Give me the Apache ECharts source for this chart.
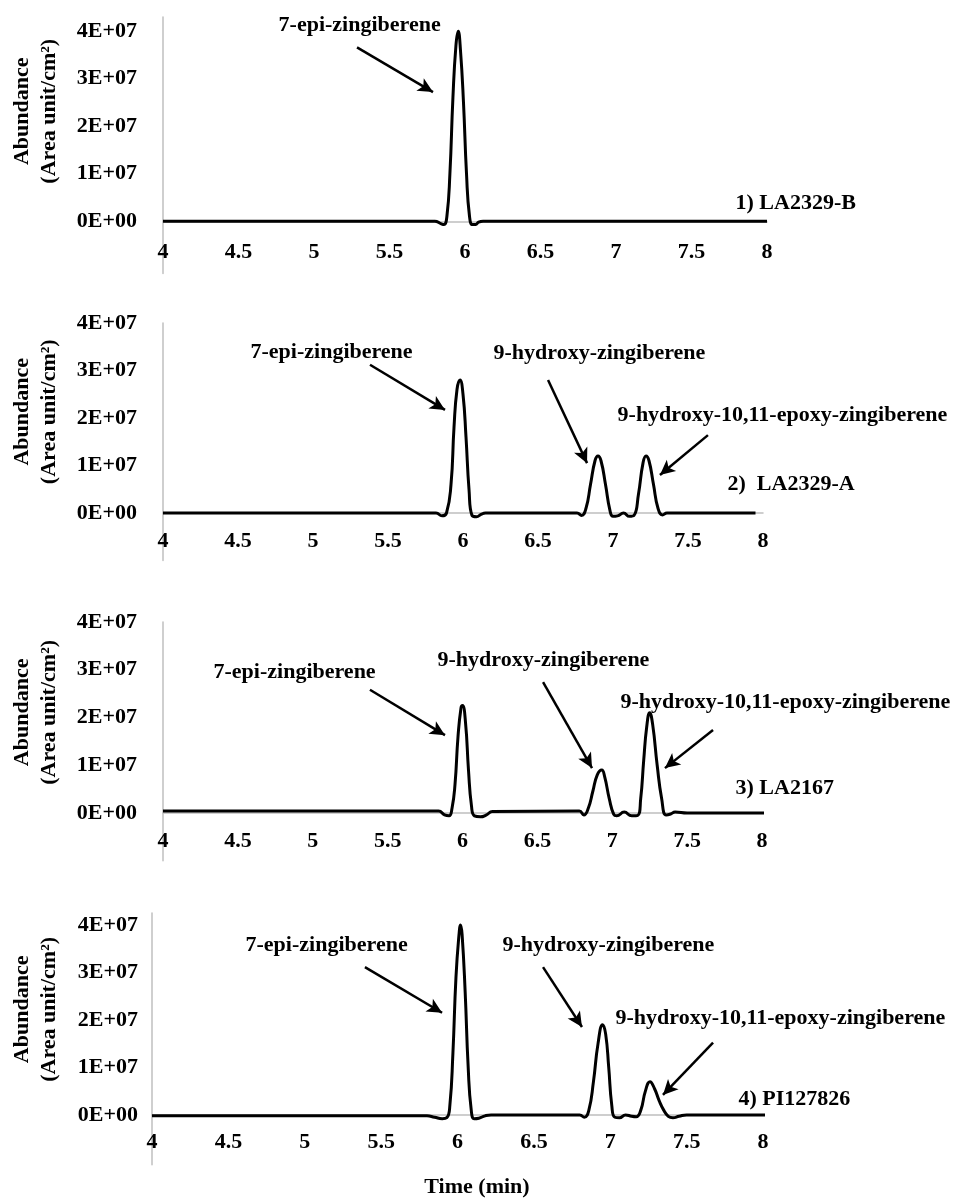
<!DOCTYPE html>
<html><head><meta charset="utf-8">
<script src="https://cdn.jsdelivr.net/npm/echarts@6/dist/echarts.min.js"></script>
<style>html,body{margin:0;padding:0;background:#fff}#c{width:960px;height:1199px}</style>
</head><body><div id="c"></div>
<script>
// ---------- DATA ----------
const xTickLabels = ['4', '4.5', '5', '5.5', '6', '6.5', '7', '7.5', '8'];
const yTickValues = [0, 1e7, 2e7, 3e7, 4e7];
const yTickLabels = ['0E+00', '1E+07', '2E+07', '3E+07', '4E+07'];
const xAxisTitle = 'Time (min)';
const yAxisTitle = 'Abundance\n(Area unit/cm²)';
const sampleNames = ['1) LA2329-B', '2)  LA2329-A', '3) LA2167', '4) PI127826'];
const compoundNames = ['7-epi-zingiberene', '9-hydroxy-zingiberene', '9-hydroxy-10,11-epoxy-zingiberene'];

// 1) LA2329-B
const timeLA2329B  = [4.00, 5.80, 5.84, 5.86, 5.88, 5.90, 5.92, 5.94, 5.955, 5.97, 5.99, 6.01, 6.03, 6.05, 6.07, 6.09, 6.12, 8.00];
const abundLA2329B = [0, 0, -0.05e7, -0.07e7, 0.1e7, 1.0e7, 2.6e7, 3.7e7, 4.0e7, 3.6e7, 2.5e7, 1.0e7, 0.1e7, -0.07e7, -0.07e7, -0.02e7, 0, 0];

// 2) LA2329-A
const timeLA2329A  = [4.00, 5.82, 5.86, 5.89, 5.92, 5.94, 5.96, 5.98, 6.00, 6.02, 6.04, 6.06, 6.09, 6.12, 6.15,
                      6.76, 6.79, 6.82, 6.85, 6.88, 6.90, 6.92, 6.95, 6.98, 7.00, 7.03, 7.07, 7.11, 7.14,
                      7.17, 7.20, 7.22, 7.24, 7.27, 7.30, 7.33, 7.36, 7.95];
const abundLA2329A = [0, 0, -0.06e7, 0, 0.6e7, 1.8e7, 2.6e7, 2.8e7, 2.5e7, 1.6e7, 0.5e7, -0.05e7, -0.08e7, -0.03e7, 0,
                      0, -0.05e7, 0.1e7, 0.6e7, 1.1e7, 1.2e7, 1.1e7, 0.6e7, 0.05e7, -0.07e7, -0.06e7, 0, -0.07e7, -0.05e7,
                      0.4e7, 1.05e7, 1.2e7, 1.1e7, 0.6e7, 0.1e7, -0.04e7, 0, 0];

// 3) LA2167
const timeLA2167  = [4.00, 5.84, 5.88, 5.91, 5.93, 5.95, 5.97, 5.99, 6.00, 6.02, 6.04, 6.06, 6.08, 6.12, 6.16, 6.20,
                     6.78, 6.81, 6.84, 6.87, 6.90, 6.93, 6.95, 6.98, 7.01, 7.03, 7.08, 7.13, 7.17,
                     7.19, 7.21, 7.23, 7.25, 7.27, 7.30, 7.33, 7.36, 7.39, 7.42, 7.50, 8.03];
const abundLA2167 = [0.04e7, 0.04e7, -0.04e7, -0.06e7, 0.1e7, 0.6e7, 1.6e7, 2.2e7, 2.25e7, 1.9e7, 0.9e7, 0.15e7, -0.06e7, -0.08e7, -0.04e7, 0.03e7,
                     0.04e7, -0.04e7, 0.1e7, 0.45e7, 0.8e7, 0.9e7, 0.75e7, 0.3e7, -0.03e7, -0.06e7, 0.02e7, -0.06e7, -0.05e7,
                     0.3e7, 1.1e7, 1.8e7, 2.1e7, 1.85e7, 1.0e7, 0.3e7, -0.04e7, -0.02e7, 0.02e7, 0, 0];

// 4) PI127826
const timePI127826  = [4.00, 5.80, 5.85, 5.90, 5.93, 5.95, 5.97, 5.99, 6.01, 6.02, 6.03, 6.05, 6.07, 6.09, 6.11, 6.14, 6.18, 6.22,
                       6.80, 6.83, 6.86, 6.89, 6.92, 6.95, 6.97, 6.99, 7.01, 7.03, 7.06, 7.10, 7.14, 7.17,
                       7.20, 7.23, 7.26, 7.29, 7.32, 7.35, 7.38, 7.41, 7.45, 7.50, 8.05];
const abundPI127826 = [-0.02e7, -0.02e7, -0.05e7, -0.08e7, -0.06e7, 0.2e7, 1.3e7, 2.9e7, 3.8e7, 4.0e7, 3.8e7, 2.6e7, 1.0e7, 0.1e7, -0.08e7, -0.07e7, -0.02e7, 0,
                       0, -0.05e7, 0.1e7, 0.7e7, 1.5e7, 1.9e7, 1.7e7, 1.0e7, 0.2e7, -0.05e7, -0.06e7, 0, -0.03e7, -0.04e7,
                       0.1e7, 0.5e7, 0.7e7, 0.55e7, 0.3e7, 0.1e7, -0.03e7, -0.06e7, -0.03e7, 0, 0];

// ---------- LAYOUT (positions / styles) ----------
const FONT = 'Liberation Serif';
const AXIS_GRAY = '#bfbfbf';
const panels = [
  { time: timeLA2329B, abund: abundLA2329B,
    grid: {left: 163, right: 193, top: 17, height: 256.5}, yMin: -1.1e7, yMax: 4.3e7,
    nameGap: 100, namePad: 68, xMargin: 20, yMargin: 26, yLabelPad: [0, 0, 8, 0],
    labels: [[compoundNames[0], 4.762, 4.13e7], [sampleNames[0], 7.788, 0.38e7]],
    arrows: [[5.285, 3.66e7, 5.788, 2.72e7]] },
  { time: timeLA2329A, abund: abundLA2329A,
    grid: {left: 163, right: 197, top: 323, height: 237.5}, yMin: -1.0e7, yMax: 4.0e7,
    nameGap: 100, namePad: 60, xMargin: 17, yMargin: 26, yLabelPad: [4, 0, 0, 0],
    labels: [[compoundNames[0], 4.58, 3.39e7], [compoundNames[1], 6.2, 3.37e7],
             [compoundNames[2], 7.027, 2.06e7], [sampleNames[1], 7.76, 0.61e7]],
    arrows: [[5.38, 3.12e7, 5.88, 2.17e7], [6.567, 2.8e7, 6.827, 1.05e7], [7.633, 1.64e7, 7.313, 0.8e7]] },
  { time: timeLA2167, abund: abundLA2167,
    grid: {left: 163, right: 198, top: 622, height: 238.75}, yMin: -1.0e7, yMax: 4.0e7,
    nameGap: 100, namePad: 58, xMargin: 17, yMargin: 26, yLabelPad: [6, 0, 0, 0],
    labels: [[compoundNames[0], 4.334, 2.95e7], [compoundNames[1], 5.83, 3.2e7],
             [compoundNames[2], 7.052, 2.32e7], [sampleNames[2], 7.82, 0.52e7]],
    arrows: [[5.382, 2.58e7, 5.883, 1.63e7], [6.538, 2.74e7, 6.865, 0.94e7], [7.673, 1.74e7, 7.352, 0.94e7]] },
  { time: timePI127826, abund: abundPI127826,
    grid: {left: 152, right: 197, top: 913, height: 251.75}, yMin: -1.05e7, yMax: 4.25e7,
    nameGap: 89, namePad: 59, xMargin: 16, yMargin: 14, yLabelPad: [0, 0, 4, 0],
    labels: [[compoundNames[0], 4.609, 3.56e7], [compoundNames[1], 6.291, 3.56e7],
             [compoundNames[2], 7.031, 2.04e7], [sampleNames[3], 7.836, 0.32e7]],
    arrows: [[5.394, 3.11e7, 5.899, 2.15e7], [6.56, 3.11e7, 6.815, 1.85e7], [7.673, 1.52e7, 7.345, 0.42e7]] }
];

const txt = {fontFamily: FONT, fontSize: 22, fontWeight: 'bold', color: '#000'};
// pixel distance between the grid bottom and the zero level, so the x axis sits at y = 0
const zeroOffset = p => -p.grid.height * (-p.yMin) / (p.yMax - p.yMin);

const option = {
  animation: false,
  backgroundColor: '#fff',
  textStyle: {fontFamily: FONT},
  grid: panels.map(p => Object.assign({outerBoundsMode: 'none', containLabel: false}, p.grid)),
  xAxis: panels.map((p, i) => Object.assign({
    type: 'value', gridIndex: i, min: 4, max: 8, interval: 0.5,
    position: 'bottom', offset: zeroOffset(p),
    axisLine: {show: true, onZero: false, lineStyle: {color: AXIS_GRAY, width: 1.5}},
    axisTick: {show: false}, splitLine: {show: false},
    axisLabel: Object.assign({margin: p.xMargin, formatter: v => xTickLabels[Math.round((v - 4) / 0.5)] ?? ''}, txt)
  }, i === 3 ? {
    name: xAxisTitle, nameLocation: 'middle', nameGap: 61,
    nameTextStyle: Object.assign({padding: [0, 0, 0, 39]}, txt)
  } : {})),
  yAxis: panels.map((p, i) => ({
    type: 'value', gridIndex: i, min: p.yMin, max: p.yMax,
    axisLine: {show: true, onZero: false, lineStyle: {color: AXIS_GRAY, width: 1.5}},
    axisTick: {show: false}, splitLine: {show: false},
    axisLabel: Object.assign({
      margin: p.yMargin, customValues: yTickValues, padding: p.yLabelPad,
      formatter: v => { const k = yTickValues.indexOf(v); return k >= 0 ? yTickLabels[k] : ''; }
    }, txt),
    name: yAxisTitle, nameLocation: 'middle', nameRotate: 90, nameGap: p.nameGap,
    nameTextStyle: Object.assign({lineHeight: 27, padding: [0, 0, 0, p.namePad]}, txt)
  })),
  series: panels.map((p, i) => ({
    type: 'line', xAxisIndex: i, yAxisIndex: i,
    data: p.time.map((t, k) => [t, p.abund[k]]),
    showSymbol: false, symbol: 'none', smooth: 0.5, clip: false,
    lineStyle: {color: '#000', width: 3},
    silent: true,
    markPoint: {
      silent: true, symbol: 'rect', symbolSize: 1, itemStyle: {color: 'rgba(0,0,0,0)'},
      label: Object.assign({show: true, position: 'right', distance: 0, formatter: q => q.name}, txt),
      data: p.labels.map(l => ({name: l[0], coord: [l[1], l[2]]}))
    },
    markLine: {
      silent: true, symbol: ['none', 'arrow'], symbolSize: [11, 15],
      lineStyle: {color: '#000', width: 2.5, type: 'solid'},
      label: {show: false},
      data: p.arrows.map(a => [{coord: [a[0], a[1]]}, {coord: [a[2], a[3]]}])
    }
  }))
};

const chart = echarts.init(document.getElementById('c'), null, {renderer: 'canvas'});
chart.setOption(option);
</script>
</body></html>
